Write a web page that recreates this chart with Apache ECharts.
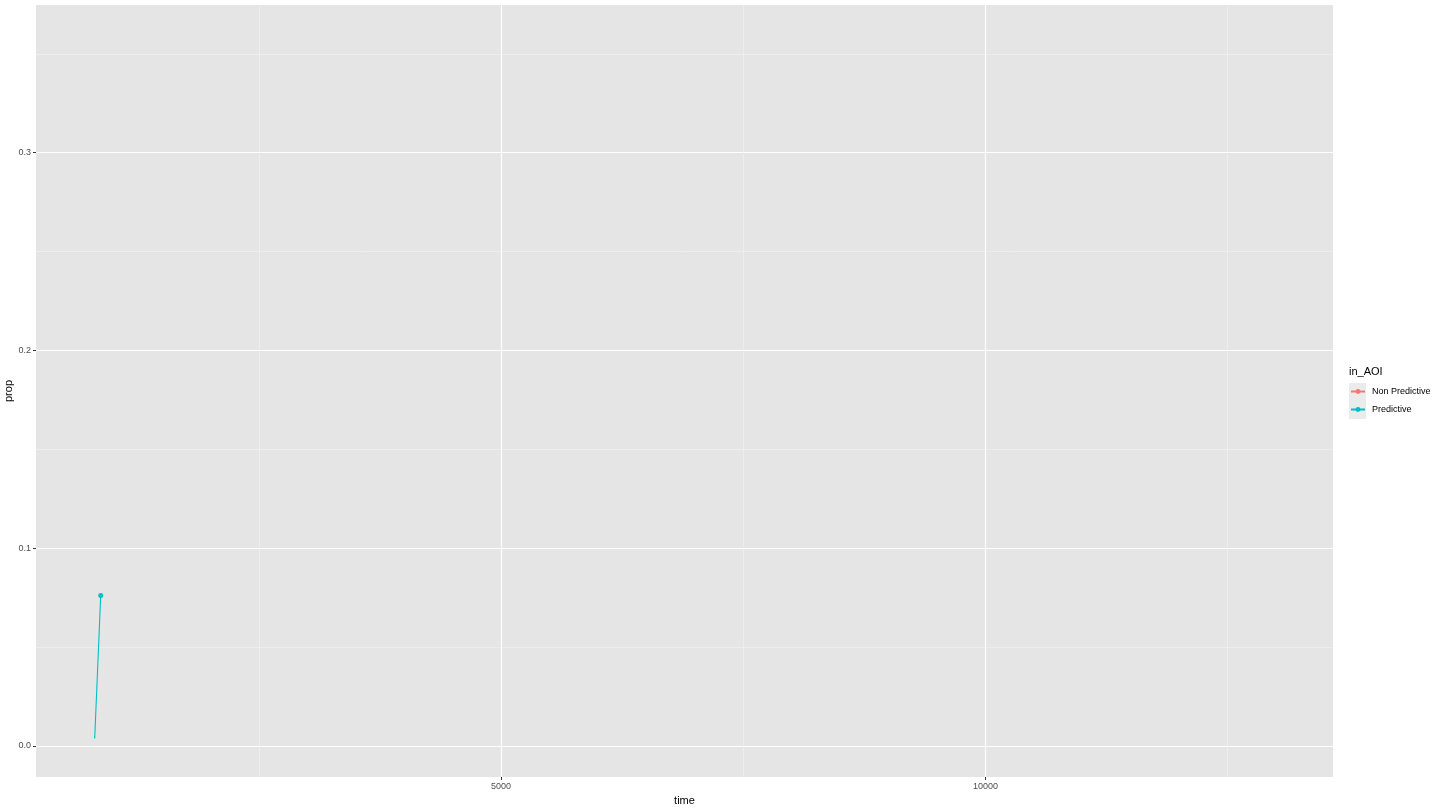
<!DOCTYPE html>
<html>
<head>
<meta charset="utf-8">
<script src="https://cdn.jsdelivr.net/npm/echarts@6/dist/echarts.min.js"></script>
<style>
  html, body { margin: 0; padding: 0; background: #fff; }
  #chart { width: 1440px; height: 810px; }
</style>
</head>
<body>
<div id="chart"></div>
<script>
// series names (legend order)
const groups = ["Non Predictive", "Predictive"];
const groupColors = ["#F8766D", "#00BFC4"];

// time / prop values
const nonPredTime = [];
const nonPredProp = [];
const predTime = [805, 867];
const predProp = [0.0037, 0.0761];

// axis breaks
const xMajor = [5000, 10000];
const xMinor = [2500, 7500, 12500];
const yMajor = [0, 0.1, 0.2, 0.3];
const yMinor = [0.05, 0.15, 0.25, 0.35];
const xRange = [199, 13587];
const yRange = [-0.01576, 0.3747];

const toPoints = (xs, ys) =>
  xs.map((x, i) => ({
    value: [x, ys[i]],
    // only the last (current) point gets a dot
    symbolSize: i === xs.length - 1 ? 5 : 0,
  }));

const chartDom = document.getElementById("chart");
const myChart = echarts.init(chartDom);

const baseAxis = {
  axisLine: { show: false, onZero: false },
  axisTick: { show: false },
  axisLabel: { show: false },
  splitLine: { show: false },
};

const option = {
  animation: false,
  backgroundColor: "#ffffff",
  title: {
    text: "in_AOI",
    left: 1349,
    top: 366,
    textStyle: { fontFamily: "Liberation Sans", fontSize: 11, fontWeight: "normal", color: "#000" },
    padding: 0,
  },
  legend: {
    orient: "vertical",
    left: 1350,
    top: 387,
    padding: 0,
    itemGap: 9,
    itemWidth: 14,
    itemHeight: 6,
    data: groups,
    textStyle: { fontFamily: "Liberation Sans", fontSize: 9, color: "#000", padding: [0, 0, 0, 2] },
  },
  graphic: [
    {
      type: "rect",
      left: 1349,
      top: 383,
      z: -1,
      shape: { width: 17, height: 36 },
      style: { fill: "#EBEBEB" },
      silent: true,
    },
  ],
  grid: {
    left: 36,
    right: 107,
    top: 5,
    bottom: 33,
    containLabel: false,
    outerBoundsMode: "none",
    show: true,
    backgroundColor: "#E5E5E5",
    borderWidth: 0,
  },
  xAxis: [
    {
      type: "value",
      min: xRange[0],
      max: xRange[1],
      name: "time",
      nameLocation: "middle",
      nameGap: 18,
      nameMoveOverlap: false,
      nameTextStyle: { fontFamily: "Liberation Sans", fontSize: 11, color: "#000" },
      axisLine: { show: false, onZero: false },
      axisTick: { show: true, customValues: xMajor, length: 3, lineStyle: { color: "#333", width: 1 } },
      axisLabel: {
        customValues: xMajor,
        formatter: (v) => String(v),
        fontFamily: "Liberation Sans",
        fontSize: 9,
        color: "#4D4D4D",
        margin: 5,
      },
      splitLine: { show: true, lineStyle: { color: "#ffffff", width: 1.2 } },
    },
    Object.assign({}, baseAxis, {
      type: "value",
      min: xRange[0],
      max: xRange[1],
      position: "bottom",
      axisTick: { show: false, customValues: xMinor },
      axisLabel: { show: false, customValues: xMinor },
      splitLine: { show: true, lineStyle: { color: "#F2F2F2", width: 0.6 } },
    }),
  ],
  yAxis: [
    {
      type: "value",
      min: yRange[0],
      max: yRange[1],
      name: "prop",
      nameLocation: "middle",
      nameGap: 22,
      nameMoveOverlap: false,
      nameTextStyle: { fontFamily: "Liberation Sans", fontSize: 11, color: "#000" },
      axisLine: { show: false, onZero: false },
      axisTick: { show: true, customValues: yMajor, length: 3, lineStyle: { color: "#333", width: 1 } },
      axisLabel: {
        customValues: yMajor,
        formatter: (v) => v.toFixed(1),
        fontFamily: "Liberation Sans",
        fontSize: 9,
        color: "#4D4D4D",
        margin: 5,
      },
      splitLine: { show: true, lineStyle: { color: "#ffffff", width: 1.2 } },
    },
    Object.assign({}, baseAxis, {
      type: "value",
      min: yRange[0],
      max: yRange[1],
      axisTick: { show: false, customValues: yMinor },
      axisLabel: { show: false, customValues: yMinor },
      splitLine: { show: true, lineStyle: { color: "#F2F2F2", width: 0.6 } },
    }),
  ],
  series: [
    {
      name: groups[0],
      type: "line",
      data: toPoints(nonPredTime, nonPredProp),
      symbol: "circle",
      color: groupColors[0],
      lineStyle: { width: 1.1 },
    },
    {
      name: groups[1],
      type: "line",
      data: toPoints(predTime, predProp),
      symbol: "circle",
      color: groupColors[1],
      lineStyle: { width: 1.1 },
    },
  ],
};

option && myChart.setOption(option);
</script>
</body>
</html>
